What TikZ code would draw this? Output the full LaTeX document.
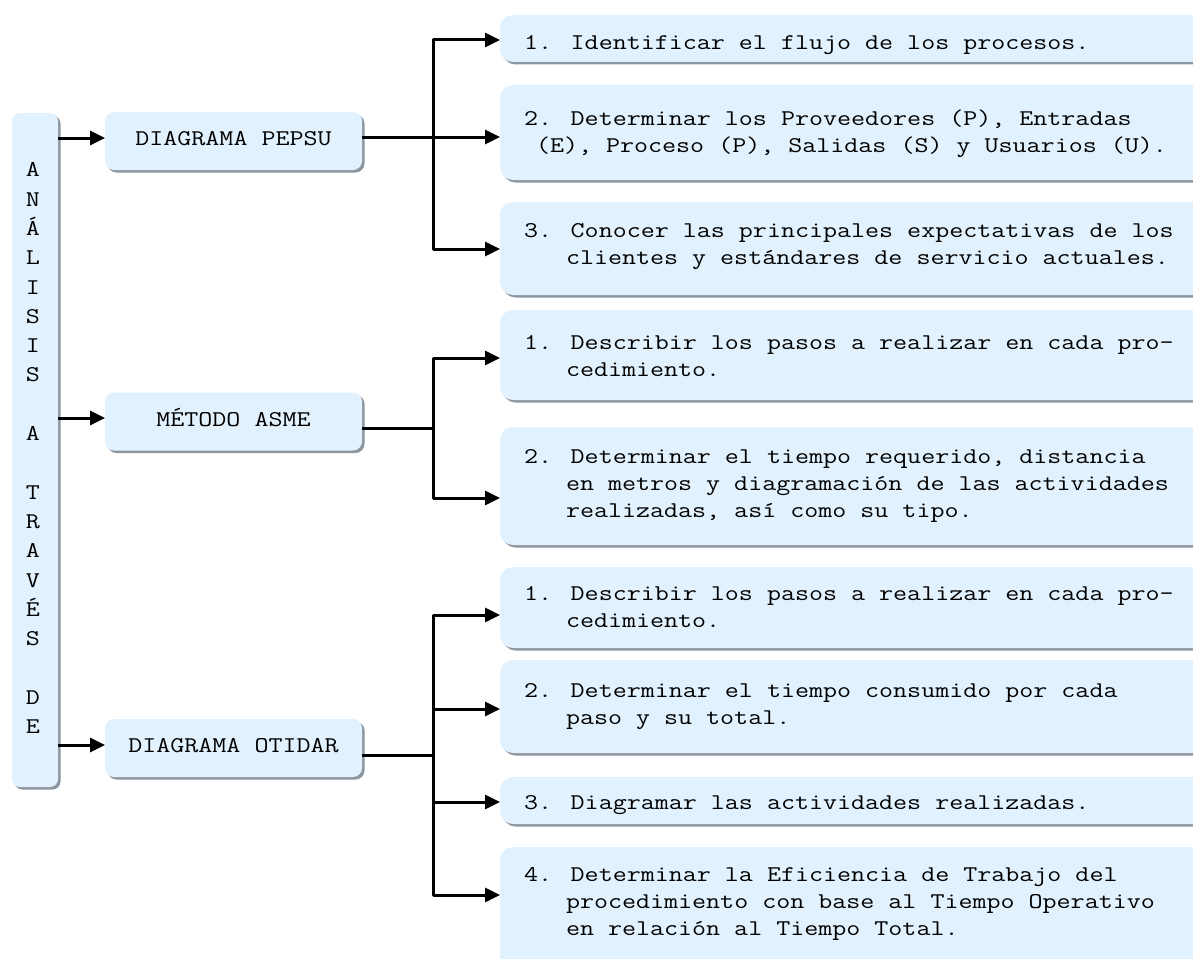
\documentclass[tikz,border=0pt]{standalone}
\usepackage{fontspec}
\newfontfamily\cour{Latin Modern Mono}[FakeStretch=1.21]
\usetikzlibrary{arrows.meta,shadows}
\definecolor{boxfill}{RGB}{225,241,253}
\definecolor{boxshadow}{RGB}{140,150,160}

\begin{document}
\begin{tikzpicture}[x=1pt,y=-1pt,
  every node/.style={inner sep=0pt, outer sep=0pt},
  panel/.style={fill=boxfill, draw=none,
    drop shadow={shadow xshift=2.5pt, shadow yshift=-2.5pt, fill=boxshadow, opacity=1}},
  sidebox/.style={panel, rounded corners=9pt, minimum width=257pt, minimum height=58pt,
    font=\cour\fontsize{22.5}{27}\selectfont, text height=13.7pt, text depth=4pt},
  itembox/.style={panel, rounded corners=13pt, minimum width=710pt, anchor=north west},
  txt/.style={font=\cour\fontsize{22.5}{27}\selectfont, anchor=base west},
  letter/.style={font=\cour\fontsize{22.5}{27}\selectfont, anchor=base},
  conn/.style={line width=3pt, line join=round},
  arr/.style={conn, -{Triangle[length=15pt,width=14pt]}},
]
\useasboundingbox (0,0) rectangle (1193,958);

% vertical title column
\node[panel, rounded corners=8pt, anchor=north west, minimum width=46pt, minimum height=674pt] (lbox) at (12,113) {};
\foreach \k/\ch in {0/A,1/N,2/Á,3/L,4/I,5/S,6/I,7/S,9/A,11/T,12/R,13/A,14/V,15/É,16/S,18/D,19/E}
  \node[letter] (c\k) at (33,176.8+29.3*\k) {\ch};

% method boxes
\node[sidebox] (pepsu) at (233.5,141) {DIAGRAMA PEPSU};
\node[sidebox] (asme) at (233.5,421.5) {MÉTODO ASME};
\node[sidebox] (otidar) at (233.5,748) {DIAGRAMA OTIDAR};

% step boxes
\node[itembox, minimum height=47pt] (r1) at (500,15) {};
\node[itembox, minimum height=95pt] (r2) at (500,85) {};
\node[itembox, minimum height=93pt] (r3) at (500,202) {};
\node[itembox, minimum height=90pt] (r4) at (500,310) {};
\node[itembox, minimum height=118pt] (r5) at (500,427) {};
\node[itembox, minimum height=81pt] (r6) at (500,567) {};
\node[itembox, minimum height=93pt] (r7) at (500,660) {};
\node[itembox, minimum height=47pt] (r8) at (500,777) {};
\node[itembox, minimum height=130pt] (r9) at (500,847) {};

% title column to methods
\coordinate (in1) at ([yshift=3pt]pepsu.west);
\coordinate (in2) at ([yshift=3.5pt]asme.west);
\coordinate (in3) at ([yshift=3pt]otidar.west);
\draw[arr] (lbox.east |- in1) -- (in1);
\draw[arr] (lbox.east |- in2) -- (in2);
\draw[arr] (lbox.east |- in3) -- (in3);

% method to steps
\coordinate (hP) at (433,137);
\coordinate (hA) at (433,428);
\coordinate (hO) at (433,755);

\draw[conn] (pepsu.east |- hP) -- (hP);
\draw[arr] (hP) |- ([yshift=-25pt]r1.north west);
\draw[arr] (hP) |- ([yshift=-52pt]r2.north west);
\draw[arr] (hP) |- ([yshift=-47pt]r3.north west);

\draw[conn] (asme.east |- hA) -- (hA);
\draw[arr] (hA) |- ([yshift=-48pt]r4.north west);
\draw[arr] (hA) |- ([yshift=-71pt]r5.north west);

\draw[conn] (otidar.east |- hO) -- (hO);
\draw[arr] (hO) |- ([yshift=-48pt]r6.north west);
\draw[arr] (hO) |- ([yshift=-49pt]r7.north west);
\draw[arr] (hO) |- ([yshift=-25pt]r8.north west);
\draw[arr] (hO) |- ([yshift=-48pt]r9.north west);

% step texts
\node[txt] (t1) at (524,49) {1. Identificar el flujo de los procesos.};
\node[txt] (t2a) at (524,125) {2. Determinar los Proveedores (P), Entradas};
\node[txt] (t2b) at (536,152) {(E), Proceso (P), Salidas (S) y Usuarios (U).};
\node[txt] (t3a) at (524,237) {3. Conocer las principales expectativas de los};
\node[txt] (t3b) at (566,264) {clientes y estándares de servicio actuales.};
\node[txt] (t4a) at (524,349) {1. Describir los pasos a realizar en cada pro-};
\node[txt] (t4b) at (566,376) {cedimiento.};
\node[txt] (t5a) at (524,463) {2. Determinar el tiempo requerido, distancia};
\node[txt] (t5b) at (566,490) {en metros y diagramación de las actividades};
\node[txt] (t5c) at (566,517) {realizadas, así como su tipo.};
\node[txt] (t6a) at (524,600) {1. Describir los pasos a realizar en cada pro-};
\node[txt] (t6b) at (566,627) {cedimiento.};
\node[txt] (t7a) at (524,697) {2. Determinar el tiempo consumido por cada};
\node[txt] (t7b) at (566,724) {paso y su total.};
\node[txt] (t8) at (524,809) {3. Diagramar las actividades realizadas.};
\node[txt] (t9a) at (524,881) {4. Determinar la Eficiencia de Trabajo del};
\node[txt] (t9b) at (566,908) {procedimiento con base al Tiempo Operativo};
\node[txt] (t9c) at (566,935) {en relación al Tiempo Total.};
\end{tikzpicture}
\end{document}
